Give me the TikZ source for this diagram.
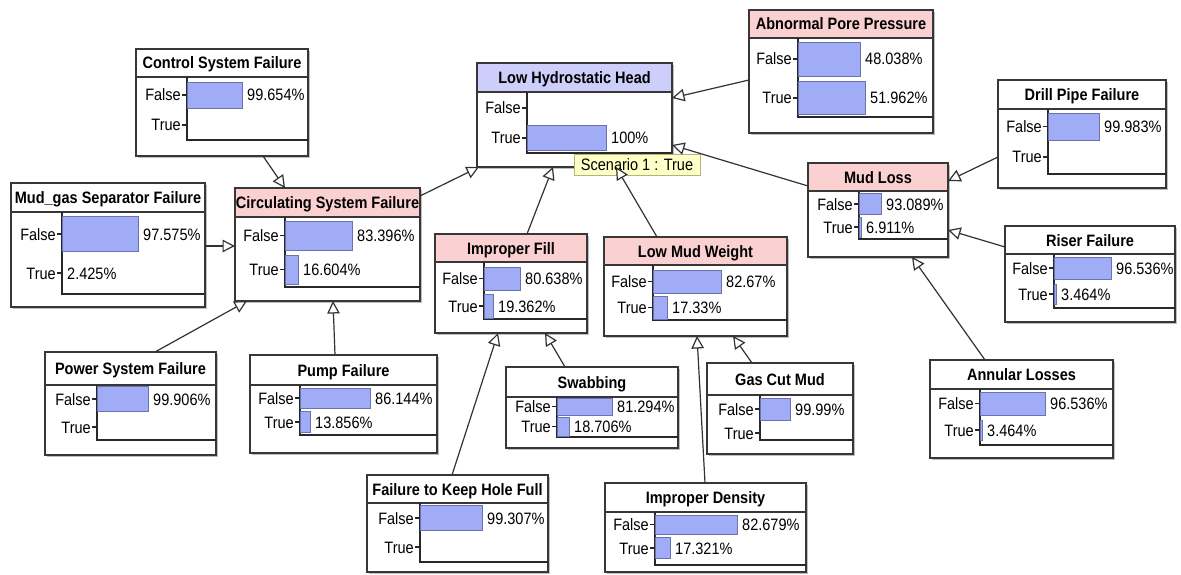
\documentclass[tikz,border=0pt]{standalone}
\usepackage{fontspec}
\setmainfont[FakeStretch=0.88]{Liberation Sans}
\usetikzlibrary{arrows.meta,shadows}

\definecolor{framecol}{RGB}{55,55,55}
\definecolor{axiscol}{RGB}{40,40,40}
\definecolor{barfill}{RGB}{160,172,245}
\definecolor{barline}{RGB}{105,115,175}
\definecolor{pinkfill}{RGB}{250,208,208}
\definecolor{lavfill}{RGB}{206,206,250}
\definecolor{notefill}{RGB}{255,255,200}
\definecolor{noteline}{RGB}{180,180,120}
\definecolor{linkcol}{RGB}{50,50,50}

\newcommand\bntitlefont{\bfseries\fontsize{16.5}{19}\selectfont}
\newcommand\bnlabelfont{\fontsize{16.5}{19}\selectfont}

\tikzset{
  boxframe/.style={draw=framecol, line width=1.3pt, fill=white, inner sep=0pt, outer sep=0pt,
    drop shadow={shadow xshift=2pt, shadow yshift=-2pt, fill=black, opacity=0.25}},
  frameline/.style={draw=framecol, line width=1.3pt},
  axisline/.style={draw=axiscol, line width=1.1pt},
  barstyle/.style={fill=barfill, draw=barline, line width=0.9pt},
  titletext/.style={font=\bntitlefont, inner sep=0pt, anchor=base},
  labeltext/.style={font=\bnlabelfont, inner sep=0pt},
  note/.style={draw=noteline, fill=notefill, line width=0.9pt, inner sep=0pt, outer sep=0pt,
    font=\bnlabelfont},
  link/.style={draw=linkcol, line width=1.2pt,
    -{Triangle[fill=white, length=12.5pt, width=12.5pt, line width=1.2pt]}},
}

% frame of one variable: name, left, top, right, bottom, title bottom, title fill, title
\newcommand\bnbox[8]{%
  \pgfmathsetmacro\bnw{#4-#2}\pgfmathsetmacro\bnh{#5-#3}%
  \node[boxframe, minimum width=\bnw pt, minimum height=\bnh pt] (#1) at ({(#2+#4)/2},{(#3+#5)/2}) {};
  \fill[#7] (#2,#3) rectangle (#4,#6);
  \draw[frameline] (#2,#6) -- (#4,#6);
  \draw[frameline] (#1.north west) rectangle (#1.south east);
  \node[titletext] (#1-title) at ({(#2+#4)/2},{(#3+#6)/2+6}) {#8};
}

% chart axes: left x, top y, bottom y, right x
\newcommand\bnaxis[4]{\draw[axisline] (#1,#2) -- (#1,#3) -- (#4,#3);}

% one state row: name, axis x, row y, label, bar right end, bar half height, value
\newcommand\bnrow[7]{%
  \ifdim #5pt>#2pt \path[barstyle] (#2,{#3-#6}) rectangle (#5,{#3+#6});\fi
  \draw[axisline] ({#2-5},#3) -- (#2,#3);
  \node[labeltext, anchor=base east] (#1-l) at ({#2-6},{#3+6}) {#4};
  \def\bnval{#7}%
  \ifx\bnval\empty\else
    \node[labeltext, anchor=base west] (#1-v) at ({#5+5},{#3+6}) {#7};
  \fi
}

\begin{document}
\begin{tikzpicture}[x=1pt,y=-1pt]
\useasboundingbox[fill=white] (0,0) rectangle (1181,575);

% Low Hydrostatic Head
\bnbox{lhh}{477}{63}{672}{167}{92}{lavfill}{Low Hydrostatic Head}
\bnaxis{527}{92}{153}{672}
\bnrow{lhhF}{527}{108}{False}{527}{0}{}
\bnrow{lhhT}{527}{138}{True}{606}{12.5}{100\%}

% Abnormal Pore Pressure
\bnbox{app}{749}{10}{933}{133}{38}{pinkfill}{Abnormal Pore Pressure}
\bnaxis{798}{38}{117}{933}
\bnrow{appF}{798}{59}{False}{860}{17}{48.038\%}
\bnrow{appT}{798}{98}{True}{865}{16.5}{51.962\%}

% Control System Failure
\bnbox{csf}{136}{49}{308}{156}{77}{white}{Control System Failure}
\bnaxis{187}{77}{140}{308}
\bnrow{csfF}{187}{95}{False}{242}{13}{99.654\%}
\bnrow{csfT}{187}{125}{True}{187}{0}{}

% Mud_gas Separator Failure
\bnbox{mgs}{11}{183}{205}{307}{212}{white}{Mud\_gas Separator Failure}
\bnaxis{62}{212}{294}{205}
\bnrow{mgsF}{62}{234}{False}{138}{17.5}{97.575\%}
\bnrow{mgsT}{62}{273}{True}{62}{0}{2.425\%}

% Circulating System Failure
\bnbox{cisf}{235}{188}{420}{301}{217}{pinkfill}{Circulating System Failure}
\bnaxis{285}{217}{287}{420}
\bnrow{cisfF}{285}{235.5}{False}{352}{14.5}{83.396\%}
\bnrow{cisfT}{285}{269.5}{True}{298}{14.5}{16.604\%}

% Mud Loss
\bnbox{ml}{808}{163}{948}{257}{191}{pinkfill}{Mud Loss}
\bnaxis{859}{191}{239}{948}
\bnrow{mlF}{859}{204}{False}{881}{10.5}{93.089\%}
\bnrow{mlT}{859}{227}{True}{861}{10}{6.911\%}

% Drill Pipe Failure
\bnbox{dpf}{998}{80}{1166}{188}{109}{white}{Drill Pipe Failure}
\bnaxis{1048}{109}{174}{1166}
\bnrow{dpfF}{1048}{126.5}{False}{1099}{13.5}{99.983\%}
\bnrow{dpfT}{1048}{157}{True}{1048}{0}{}

% Riser Failure
\bnbox{rf}{1005}{226}{1175}{322}{254}{white}{Riser Failure}
\bnaxis{1054}{254}{308}{1175}
\bnrow{rfF}{1054}{268}{False}{1111}{11}{96.536\%}
\bnrow{rfT}{1054}{294}{True}{1056}{10}{3.464\%}

% Annular Losses
\bnbox{al}{930}{360}{1113}{458}{389}{white}{Annular Losses}
\bnaxis{980}{389}{445}{1113}
\bnrow{alF}{980}{403.5}{False}{1045}{11.5}{96.536\%}
\bnrow{alT}{980}{430}{True}{982}{10}{3.464\%}

% Low Mud Weight
\bnbox{lmw}{604}{237}{787}{336}{265}{pinkfill}{Low Mud Weight}
\bnaxis{653}{265}{320}{787}
\bnrow{lmwF}{653}{281.5}{False}{721}{11.5}{82.67\%}
\bnrow{lmwT}{653}{307.5}{True}{667}{11.5}{17.33\%}

% Improper Fill
\bnbox{imf}{435}{234}{587}{333}{262}{pinkfill}{Improper Fill}
\bnaxis{484}{262}{319}{587}
\bnrow{imfF}{484}{278.5}{False}{520}{11.5}{80.638\%}
\bnrow{imfT}{484}{306}{True}{493}{12}{19.362\%}

% Swabbing
\bnbox{swb}{506}{367}{678}{448}{397}{white}{Swabbing}
\bnaxis{557}{397}{437}{678}
\bnrow{swbF}{557}{406.5}{False}{612}{8.5}{81.294\%}
\bnrow{swbT}{557}{426.5}{True}{569}{9.5}{18.706\%}

% Gas Cut Mud
\bnbox{gcm}{707}{363}{853}{454}{395}{white}{Gas Cut Mud}
\bnaxis{760}{395}{440}{853}
\bnrow{gcmF}{760}{409}{False}{790}{11}{99.99\%}
\bnrow{gcmT}{760}{433}{True}{760}{0}{}

% Power System Failure
\bnbox{psf}{45}{352}{216}{455}{385}{white}{Power System Failure}
\bnaxis{97}{385}{440}{216}
\bnrow{psfF}{97}{399}{False}{148}{12.5}{99.906\%}
\bnrow{psfT}{97}{427}{True}{97}{0}{}

% Pump Failure
\bnbox{pmp}{250}{355}{437}{453}{385}{white}{Pump Failure}
\bnaxis{300}{385}{435}{437}
\bnrow{pmpF}{300}{398}{False}{370}{10}{86.144\%}
\bnrow{pmpT}{300}{422}{True}{310}{10.5}{13.856\%}

% Failure to Keep Hole Full
\bnbox{fkh}{367}{475}{548}{572}{503}{white}{Failure to Keep Hole Full}
\bnaxis{420}{503}{562}{548}
\bnrow{fkhF}{420}{518}{False}{482}{12.5}{99.307\%}
\bnrow{fkhT}{420}{547}{True}{420}{0}{}

% Improper Density
\bnbox{idn}{605}{483}{806}{572}{512}{white}{Improper Density}
\bnaxis{655}{512}{565}{806}
\bnrow{idnF}{655}{524.5}{False}{737}{9.5}{82.679\%}
\bnrow{idnT}{655}{548}{True}{670}{10.5}{17.321\%}

% evidence tag on the query variable
\node[note, minimum width=126pt, minimum height=21pt] (scen) at (637,164.5) {Scenario 1 : True};

% links, parent to child
\draw[link] ([shift={(0,70)}]app.north west) -- ([shift={(0,35)}]lhh.north east);
\draw[link] ([shift={(0,23)}]ml.north west) -- ([shift={(0,82)}]lhh.north east);
\draw[link] ([shift={(0,8)}]cisf.north east) -- ([shift={(2,0)}]lhh.south west);
\draw[link] ([shift={(92,0)}]imf.north west) -- ([shift={(76,0)}]lhh.south west);
\draw[link] ([shift={(53,0)}]lmw.north west) -- ([shift={(139,0)}]lhh.south west);
\draw[link] ([shift={(127,0)}]csf.south west) -- ([shift={(50,0)}]cisf.north west);
\draw[link] ([shift={(0,63)}]mgs.north east) -- ([shift={(0,58)}]cisf.north west);
\draw[link] ([shift={(110,0)}]psf.north west) -- ([shift={(12,0)}]cisf.south west);
\draw[link] ([shift={(85,0)}]pmp.north west) -- ([shift={(98,0)}]cisf.south west);
\draw[link] ([shift={(0,77)}]dpf.north west) -- ([shift={(0,18)}]ml.north east);
\draw[link] ([shift={(0,21)}]rf.north west) -- ([shift={(0,67)}]ml.north east);
\draw[link] ([shift={(55,0)}]al.north west) -- ([shift={(104,0)}]ml.south west);
\draw[link] ([shift={(85,0)}]fkh.north west) -- ([shift={(63,0)}]imf.south west);
\draw[link] ([shift={(59,0)}]swb.north west) -- ([shift={(110,0)}]imf.south west);
\draw[link] ([shift={(100,0)}]idn.north west) -- ([shift={(93,0)}]lmw.south west);
\draw[link] ([shift={(45,0)}]gcm.north west) -- ([shift={(129,0)}]lmw.south west);
\end{tikzpicture}
\end{document}
